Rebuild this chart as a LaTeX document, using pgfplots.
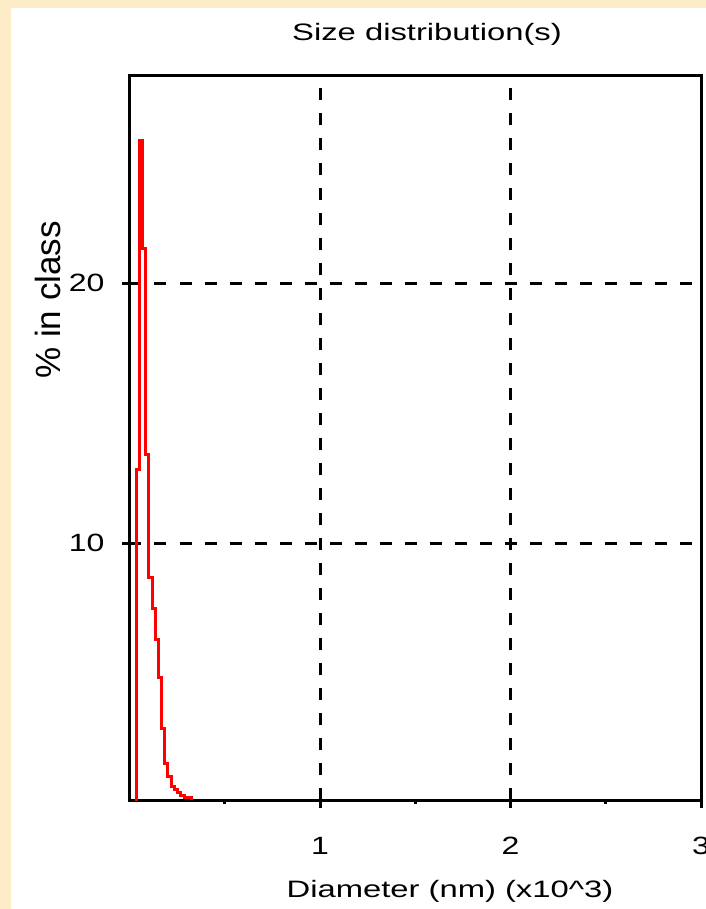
\documentclass[border=0pt]{standalone}
\usepackage{fontspec}
\setmainfont{Liberation Sans}
\newfontfamily\wide{Liberation Sans}[FakeStretch=1.38]
\newfontfamily\widet{Liberation Sans}[FakeStretch=1.28]
\usepackage{pgfplots}
\pgfplotsset{compat=1.18}
\definecolor{bgbeige}{RGB}{252,236,200}
\begin{document}
\begin{tikzpicture}
\fill[bgbeige] (0,0) rectangle (282.4pt,363.6pt);
\fill[white] (4.4pt,0) rectangle (282.4pt,360.4pt);
\useasboundingbox (0,0) rectangle (282.4pt,363.6pt);
\begin{axis}[
  at={(51.8pt,43.4pt)}, anchor=south west,
  scale only axis, width=228.6pt, height=290pt,
  xmin=0, xmax=3, ymin=0.1, ymax=28,
  xtick={1,2,3}, ytick={10,20},
  minor xtick={0.5,1.5,2.5},
  xtick pos=bottom, ytick pos=left,
  tick align=outside,
  major tick length=3pt, minor tick length=1.5pt,
  every tick/.style={black, line width=1.2pt},
  axis line style={line width=1.2pt, black},
  grid=major,
  major grid style={black, line width=1.2pt, dash pattern=on 4.8pt off 5.2pt},
  /pgf/number format/assume math mode=true,
  xticklabel style={font=\widet\fontsize{10}{12}\selectfont, yshift=-8pt},
  yticklabel style={font=\widet\fontsize{10}{12}\selectfont, xshift=-3.5pt},
]
\addplot[const plot, red, line width=1.2pt] coordinates {
(0.0366,0) (0.0366,12.85) (0.0539,25.5) (0.0696,21.35) (0.0853,13.42)
(0.1021,8.69) (0.1194,7.49) (0.1361,6.28) (0.1534,4.82) (0.1691,2.86)
(0.1848,1.51) (0.2016,1.01) (0.2183,0.63) (0.2356,0.51) (0.2513,0.40)
(0.2686,0.28) (0.2880,0.20) (0.3246,0.13) (0.3246,0.13)
};
\end{axis}
\node[anchor=base, font=\wide\fontsize{9.5}{11}\selectfont] at (170.8pt,347.2pt) {Size distribution(s)};
\node[anchor=base, font=\wide\fontsize{9.5}{11}\selectfont] at (180pt,4.8pt) {Diameter (nm) (x10\^{}3)};
\node[anchor=base, rotate=90, font=\fontsize{14}{16}\selectfont] at (24pt,243.6pt) {\% in class};
\end{tikzpicture}
\end{document}
